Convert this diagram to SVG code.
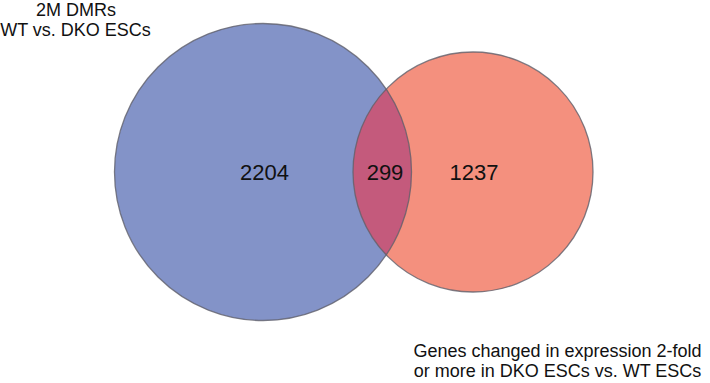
<svg xmlns="http://www.w3.org/2000/svg" width="710" height="383" viewBox="0 0 710 383">
<style>
text{font-family:"Liberation Sans",Arial,sans-serif;fill:#111}
.lbl{font-size:18px;text-anchor:middle}
.num{font-size:22px;text-anchor:middle}
.edge{fill:none;stroke:#5f5f6a;stroke-width:1.3;stroke-opacity:0.8}
</style>
<rect width="710" height="383" fill="#ffffff"/>
<g id="set-dmrs">
<circle cx="263" cy="172" r="148.5" fill="#8393C8"/>
</g>
<g id="set-genes">
<circle cx="473" cy="172" r="120" fill="#F4907E"/>
</g>
<g id="overlap">
<path d="M386.2 89.1 A148.5 148.5 0 0 1 386.2 254.9 A120 120 0 0 1 386.2 89.1 Z" fill="#C45A7C"/>
</g>
<g id="outlines">
<circle class="edge" cx="263" cy="172" r="148.5"/>
<circle class="edge" cx="473" cy="172" r="120"/>
</g>
<g id="labels">
<text class="num" x="264.5" y="179.5">2204</text>
<text class="num" x="385" y="179.5">299</text>
<text class="num" x="474" y="179.5">1237</text>
<text class="lbl" x="76" y="16">2M DMRs</text>
<text class="lbl" x="75.5" y="36">WT vs. DKO ESCs</text>
<text class="lbl" x="557.5" y="356.5">Genes changed in expression 2-fold</text>
<text class="lbl" x="557.5" y="376.5">or more in DKO ESCs vs. WT ESCs</text>
</g>
</svg>
